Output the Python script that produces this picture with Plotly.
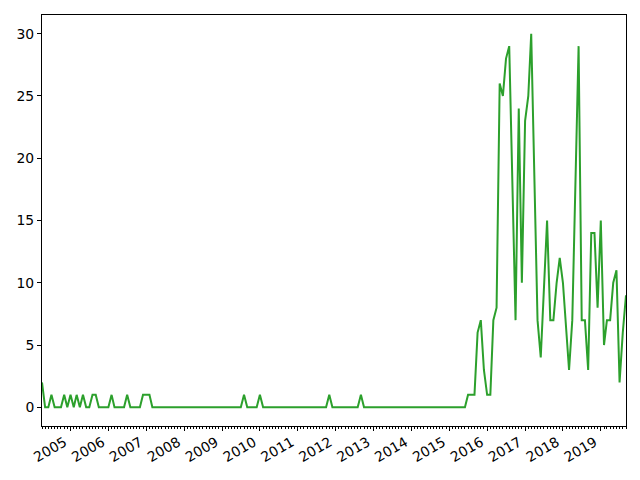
import plotly.graph_objects as go
import pandas as pd

start_month = "2004-04-01"
vals_2004 = [2, 0, 0, 1, 0, 0, 0, 1, 0]  # Apr-Dec
vals_2005 = [1, 0, 1, 0, 1, 0, 0, 1, 1, 0, 0, 0]
vals_2006 = [0, 1, 0, 0, 0, 0, 1, 0, 0, 0, 0, 1]
vals_2007 = [1, 1, 0, 0, 0, 0, 0, 0, 0, 0, 0, 0]
vals_2008 = [0, 0, 0, 0, 0, 0, 0, 0, 0, 0, 0, 0]
vals_2009 = [0, 0, 0, 0, 0, 0, 0, 1, 0, 0, 0, 0]
vals_2010 = [1, 0, 0, 0, 0, 0, 0, 0, 0, 0, 0, 0]
vals_2011 = [0, 0, 0, 0, 0, 0, 0, 0, 0, 0, 1, 0]
vals_2012 = [0, 0, 0, 0, 0, 0, 0, 0, 1, 0, 0, 0]
vals_2013 = [0, 0, 0, 0, 0, 0, 0, 0, 0, 0, 0, 0]
vals_2014 = [0, 0, 0, 0, 0, 0, 0, 0, 0, 0, 0, 0]
vals_2015 = [0, 0, 0, 0, 0, 0, 1, 1, 1, 6, 7, 3]
vals_2016 = [1, 1, 7, 8, 26, 25, 28, 29, 18, 7, 24, 10]
vals_2017 = [23, 25, 30, 17, 7, 4, 9, 15, 7, 7, 10, 12]
vals_2018 = [10, 6, 3, 7, 18, 29, 7, 7, 3, 14, 14, 8]
vals_2019 = [15, 5, 7, 7, 10, 11, 2, 6, 9]  # Jan-Sep

values = (vals_2004 + vals_2005 + vals_2006 + vals_2007 + vals_2008 + vals_2009
          + vals_2010 + vals_2011 + vals_2012 + vals_2013 + vals_2014 + vals_2015
          + vals_2016 + vals_2017 + vals_2018 + vals_2019)
dates = pd.date_range(start_month, periods=len(values), freq="MS")

y_ticks = [0, 5, 10, 15, 20, 25, 30]

fig = go.Figure()
fig.add_trace(go.Scatter(x=dates, y=values, mode="lines",
                         line=dict(color="#2ca02c", width=2), showlegend=False))

font = dict(family="DejaVu Sans", size=13.9, color="black")
fig.update_layout(
    width=632, height=472,
    margin=dict(l=34, r=14, t=7, b=54, autoexpand=False),
    plot_bgcolor="white", paper_bgcolor="white",
    font=font,
)
fig.update_xaxes(
    type="date", automargin=False,
    range=[dates[0], dates[-1]],
    showgrid=False, zeroline=False,
    showline=True, mirror=True, linecolor="black", linewidth=1,
    ticks="outside", ticklen=4, tickcolor="black", tickwidth=1,
    dtick="M12", tick0="2005-01-01", tickformat="%Y", tickangle=-30,
    ticklabelshift=-6, ticklabelstandoff=-2,
    minor=dict(dtick="M1", tick0="2005-01-01", ticks="outside", ticklen=2,
               tickcolor="black", tickwidth=0.7, showgrid=False),
    tickfont=font,
)
fig.update_yaxes(
    automargin=False,
    range=[-1.5, 31.5],
    showgrid=False, zeroline=False,
    showline=True, mirror=True, linecolor="black", linewidth=1,
    ticks="outside", ticklen=4, tickcolor="black", tickwidth=1,
    tickvals=y_ticks,
    tickfont=font,
)
fig.write_html("out.html")
